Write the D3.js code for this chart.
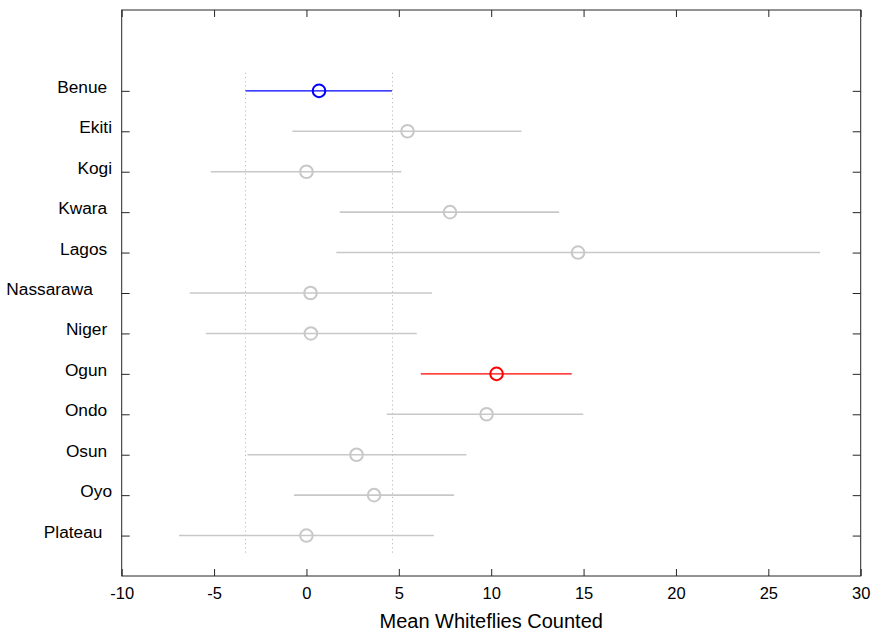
<!DOCTYPE html>
<html>
<head>
<meta charset="utf-8">
<script src="https://cdn.jsdelivr.net/npm/d3@7"></script>
<style>
  body { margin: 0; background: #fff; }
  svg { font-family: Arial, "Liberation Sans", sans-serif; }
  .lbl { white-space: pre; }
</style>
</head>
<body>
<svg width="873" height="634"></svg>
<script>
// groups, top to bottom (labels keep their trailing spaces)
let groups = ["Benue ", "Ekiti", "Kogi", "Kwara ", "Lagos ", "Nassarawa    ", "Niger ", "Ogun ", "Ondo ", "Osun ", "Oyo", "Plateau  "];
let means = [0.68, 5.47, 0.0, 7.77, 14.7, 0.22, 0.24, 10.29, 9.75, 2.71, 3.66, 0.0];
let lower = [-3.30, -0.76, -5.18, 1.80, 1.62, -6.32, -5.45, 6.19, 4.35, -3.19, -0.67, -6.90];
let upper = [4.63, 11.64, 5.14, 13.68, 27.8, 6.80, 5.97, 14.36, 14.98, 8.66, 7.99, 6.89];
let xTicks = [-10, -5, 0, 5, 10, 15, 20, 25, 30];
let xLabel = "Mean Whiteflies Counted";
let selected = 0;      // highlighted group (blue)
let different = [7];   // significantly different (red)

let plotLeft = 121.7, plotRight = 860.7, plotTop = 10, plotBottom = 576;

let svg = d3.select("svg");

let xScale = d3.scaleLinear().domain([-10, 30]).range([plotLeft, plotRight]);
let yScale = d3.scaleLinear().domain([-2, 12]).range([plotTop, plotBottom]);

let colorOf = (i) => {
  if (i == selected) return "#0000ff";
  if (different.includes(i)) return "#ff0000";
  return "#c8c8c8";
};

// dotted reference lines at the selected group's interval
[lower[selected], upper[selected]].forEach((v) => {
  svg.append("line")
    .attr("x1", Math.round(xScale(v)) + 0.5).attr("x2", Math.round(xScale(v)) + 0.5)
    .attr("y1", yScale(-0.45)).attr("y2", yScale(groups.length - 0.55))
    .attr("stroke", "#bcbcbc")
    .attr("stroke-width", 1)
    .attr("stroke-dasharray", "1.2,3");
});

// intervals
let idx = d3.range(groups.length);
svg.selectAll("line.ci")
  .data(idx)
  .enter()
  .append("line")
  .attr("class", "ci")
  .attr("x1", (i) => xScale(lower[i]))
  .attr("x2", (i) => xScale(upper[i]))
  .attr("y1", (i) => yScale(i))
  .attr("y2", (i) => yScale(i))
  .attr("stroke", (i) => colorOf(i))
  .attr("stroke-width", (i) => (i == selected || different.includes(i)) ? 1.4 : 1.6);

svg.selectAll("circle")
  .data(idx)
  .enter()
  .append("circle")
  .attr("cx", (i) => xScale(means[i]))
  .attr("cy", (i) => yScale(i))
  .attr("r", 6.3)
  .attr("fill", "none")
  .attr("stroke", (i) => colorOf(i))
  .attr("stroke-width", 2);

// axes box
let xAxisB = d3.axisBottom(xScale).tickValues(xTicks).tickSize(-7).tickPadding(11).tickFormat((d) => String(d));
let xAxisT = d3.axisTop(xScale).tickValues(xTicks).tickSize(-7).tickFormat("");
let yAxisL = d3.axisLeft(yScale).tickValues(idx).tickSize(-8).tickFormat("");
let yAxisR = d3.axisRight(yScale).tickValues(idx).tickSize(-8).tickFormat("");

let gb = svg.append("g").attr("transform", "translate(0," + plotBottom + ")").call(xAxisB);
let gt = svg.append("g").attr("transform", "translate(0," + plotTop + ")").call(xAxisT);
let gl = svg.append("g").attr("transform", "translate(" + plotLeft + ",0)").call(yAxisL);
let gr = svg.append("g").attr("transform", "translate(" + plotRight + ",0)").call(yAxisR);

[gb, gt, gl, gr].forEach((g) => {
  g.select(".domain").remove();
  g.selectAll(".tick line").attr("stroke", "#262626").attr("stroke-width", 1);
});
gb.selectAll(".tick text")
  .attr("fill", "#000")
  .style("font-size", "16.5px")
  .attr("font-family", "Arial, 'Liberation Sans', sans-serif");

svg.append("rect")
  .attr("x", plotLeft).attr("y", plotTop)
  .attr("width", plotRight - plotLeft).attr("height", plotBottom - plotTop)
  .attr("fill", "none")
  .attr("stroke", "#262626")
  .attr("stroke-width", 1);

// group labels
svg.selectAll("text.lbl")
  .data(idx)
  .enter()
  .append("text")
  .attr("class", "lbl")
  .attr("x", 112)
  .attr("y", (i) => yScale(i) + 2)
  .attr("text-anchor", "end")
  .style("font-size", "17.3px")
  .attr("fill", "#000")
  .text((i) => groups[i]);

svg.append("text")
  .attr("x", (plotLeft + plotRight) / 2)
  .attr("y", 628)
  .attr("text-anchor", "middle")
  .style("font-size", "20px")
  .attr("fill", "#000")
  .text(xLabel);
</script>
</body>
</html>
